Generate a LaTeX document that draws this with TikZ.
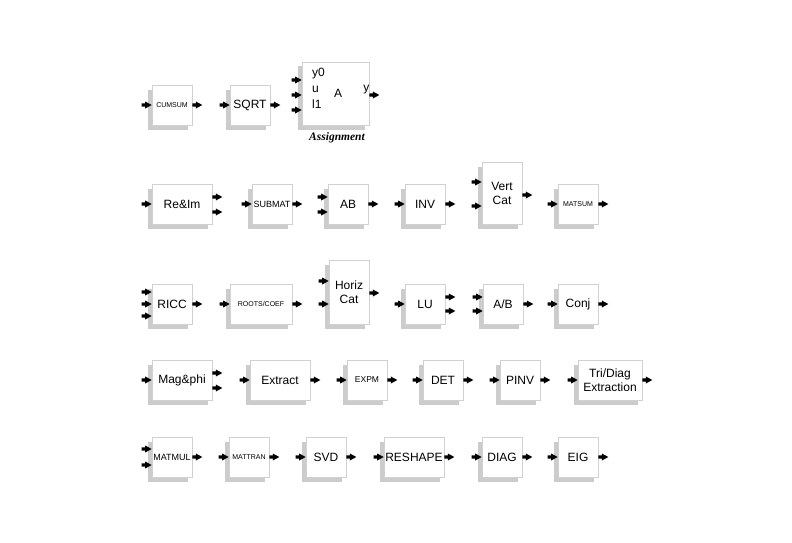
\documentclass[tikz,border=0pt]{standalone}
\usepackage{fontspec}
\setmainfont{Liberation Sans}
\newfontfamily\serifbi{Liberation Serif}
\usetikzlibrary{shadows}
\tikzset{
  blk/.style={draw=black!18, fill=white, line width=0.7pt, inner sep=0pt,
    minimum width=40pt, minimum height=40pt, align=center,
    font=\fontsize{12}{14}\selectfont,
    drop shadow={shadow xshift=-4.5pt, shadow yshift=-4.5pt, fill=black!20, opacity=1}},
  tiny/.style={font=\fontsize{7}{8}\selectfont},
  small/.style={font=\fontsize{9}{10}\selectfont},
  port/.style={fill=black},
  lbl/.style={font=\fontsize{12}{14}\selectfont, inner sep=0pt}
}
\newcommand\inp[2]{\fill[port,xshift=-3pt] (#1.west |- 0,#2) -- ++(-6.5,-3.5) -- ++(0,1.9) -- ++(-3.5,0) -- ++(0,3.2) -- ++(3.5,0) -- ++(0,1.9) -- cycle;}
\newcommand\outp[2]{\fill[port,xshift=1.5pt] (#1.east |- 0,#2) ++(0,-1.6) -- ++(3.5,0) -- ++(0,-1.9) -- ++(6.5,3.5) -- ++(-6.5,3.5) -- ++(0,-1.9) -- ++(-3.5,0) -- cycle;}
\begin{document}
\begin{tikzpicture}[x=1pt,y=-1pt]
\useasboundingbox (0,0) rectangle (792,543);
% Row 1
\node[blk,tiny] (cumsum) at (172,105) {CUMSUM};
\node[blk] (sqrt) at (250,105) {SQRT};
\node[blk,minimum width=67pt,minimum height=63pt] (assign) at (335.5,93.5) {};
\node[lbl,anchor=west] (ay0) at (312,73.5) {y0};
\node[lbl,anchor=west] (au) at (312,89) {u};
\node[lbl,anchor=west] (al1) at (312,104.5) {l1};
\node[lbl] (aA) at (338,93.5) {A};
\node[lbl,anchor=east] (ay) at (369.5,90) {y};
\node[font=\serifbi\bfseries\itshape\fontsize{11.5}{13}\selectfont] (aname) at (337,138) {Assignment};
\inp{cumsum}{105} \outp{cumsum}{105}
\inp{sqrt}{105} \outp{sqrt}{105}
\inp{assign}{80} \inp{assign}{95} \inp{assign}{110} \outp{assign}{95}
% Row 2
\node[blk,minimum width=60pt] (reim) at (182,204) {Re\&Im};
\node[blk,small] (submat) at (272,204) {SUBMAT};
\node[blk] (ab) at (348,204) {AB};
\node[blk] (inv) at (425,204) {INV};
\node[blk,minimum height=62pt] (vcat) at (502,193) {Vert\\Cat};
\node[blk,tiny] (matsum) at (578,204) {MATSUM};
\inp{reim}{204} \outp{reim}{197} \outp{reim}{212}
\inp{submat}{204} \outp{submat}{204}
\inp{ab}{197} \inp{ab}{212} \outp{ab}{204}
\inp{inv}{204} \outp{inv}{204}
\inp{vcat}{182} \inp{vcat}{206} \outp{vcat}{195}
\inp{matsum}{204} \outp{matsum}{204}
% Row 3
\node[blk] (ricc) at (172,304) {RICC};
\node[blk,tiny,minimum width=62pt] (roots) at (261,304) {ROOTS/COEF};
\node[blk,minimum height=64pt] (hcat) at (349,292) {Horiz\\Cat};
\node[blk] (lu) at (425,304) {LU};
\node[blk] (adivb) at (503,304) {A/B};
\node[blk] (conj) at (578,304) {Conj};
\inp{ricc}{292} \inp{ricc}{304} \inp{ricc}{316} \outp{ricc}{304}
\inp{roots}{304} \outp{roots}{304}
\inp{hcat}{281} \inp{hcat}{304} \outp{hcat}{293}
\inp{lu}{304} \outp{lu}{297} \outp{lu}{311}
\inp{adivb}{297} \inp{adivb}{311} \outp{adivb}{304}
\inp{conj}{304} \outp{conj}{304}
% Row 4
\node[blk,minimum width=60pt] (magphi) at (182,380) {Mag\&phi};
\node[blk,minimum width=60pt] (extract) at (280,380) {Extract};
\node[blk,font=\fontsize{8.5}{10}\selectfont] (expm) at (367,380) {EXPM};
\node[blk] (det) at (443,380) {DET};
\node[blk] (pinv) at (520,380) {PINV};
\node[blk,minimum width=64pt] (tridiag) at (610,380) {Tri/Diag\\Extraction};
\inp{magphi}{380} \outp{magphi}{373} \outp{magphi}{388}
\inp{extract}{380} \outp{extract}{380}
\inp{expm}{380} \outp{expm}{380}
\inp{det}{380} \outp{det}{380}
\inp{pinv}{380} \outp{pinv}{380}
\inp{tridiag}{380} \outp{tridiag}{380}
% Row 5
\node[blk,small] (matmul) at (172,457) {MATMUL};
\node[blk,tiny] (mattran) at (249,457) {MATTRAN};
\node[blk] (svd) at (326,457) {SVD};
\node[blk,minimum width=60pt] (reshape) at (414,457) {RESHAPE};
\node[blk] (diag) at (502,457) {DIAG};
\node[blk] (eig) at (578,457) {EIG};
\inp{matmul}{449} \inp{matmul}{465} \outp{matmul}{457}
\inp{mattran}{457} \outp{mattran}{457}
\inp{svd}{457} \outp{svd}{457}
\inp{reshape}{457} \outp{reshape}{457}
\inp{diag}{457} \outp{diag}{457}
\inp{eig}{457} \outp{eig}{457}
\end{tikzpicture}
\end{document}
